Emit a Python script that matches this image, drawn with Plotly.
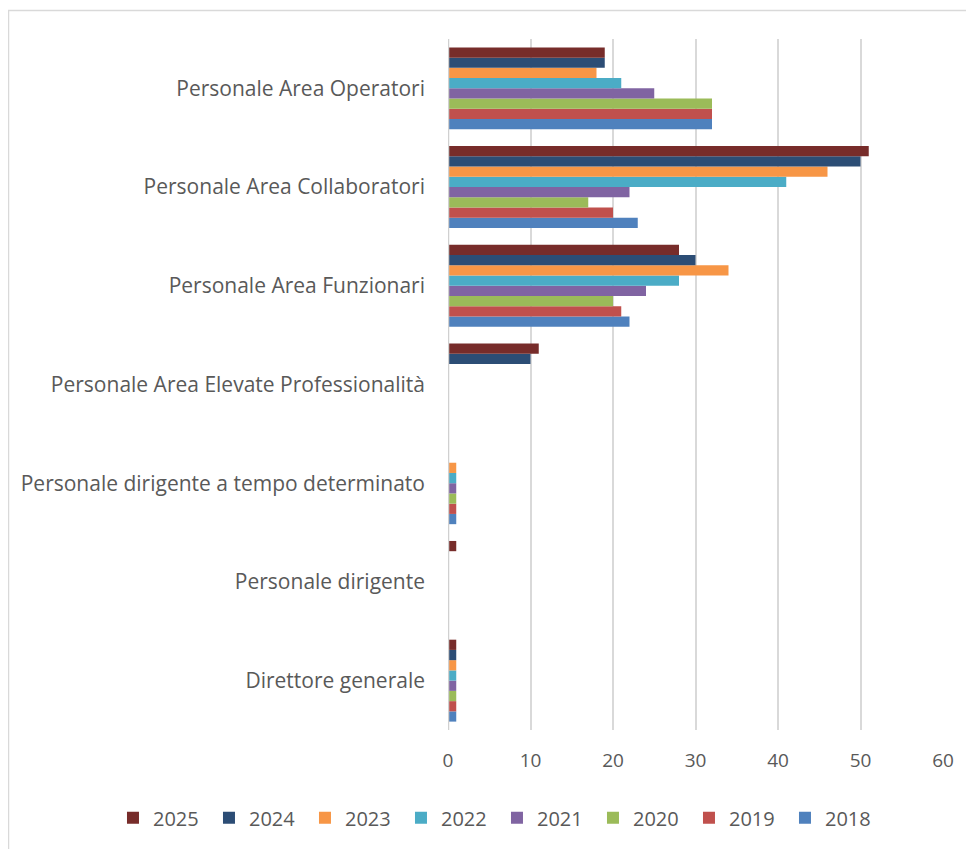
import plotly.graph_objects as go

categories = [
    "Direttore generale",
    "Personale dirigente",
    "Personale dirigente a tempo determinato",
    "Personale Area Elevate Professionalità",
    "Personale Area Funzionari",
    "Personale Area Collaboratori",
    "Personale Area Operatori",
]

years = ["2018", "2019", "2020", "2021", "2022", "2023", "2024", "2025"]

v2018 = [1, None, 1, None, 22, 23, 32]
v2019 = [1, None, 1, None, 21, 20, 32]
v2020 = [1, None, 1, None, 20, 17, 32]
v2021 = [1, None, 1, None, 24, 22, 25]
v2022 = [1, None, 1, None, 28, 41, 21]
v2023 = [1, None, 1, None, 34, 46, 18]
v2024 = [1, None, None, 10, 30, 50, 19]
v2025 = [1, 1, None, 11, 28, 51, 19]

values = [v2018, v2019, v2020, v2021, v2022, v2023, v2024, v2025]
colors = ["#4F81BD", "#C0504D", "#9BBB59", "#8064A2",
          "#4BACC6", "#F79646", "#2C4D75", "#772C2A"]

x_ticks = [0, 10, 20, 30, 40, 50, 60]

fig = go.Figure()
for yr, vals, col in zip(years, values, colors):
    fig.add_trace(go.Bar(
        y=categories, x=vals, name=yr, orientation="h",
        marker=dict(color=col, line=dict(width=0)),
    ))

fig.update_layout(
    width=966, height=841,
    margin=dict(l=440, r=31, t=31, b=108),
    barmode="group",
    bargap=0.17,
    bargroupgap=0,
    plot_bgcolor="white",
    paper_bgcolor="white",
    font=dict(family="Open Sans, sans-serif", color="#595959"),
    legend=dict(
        orientation="h", traceorder="reversed",
        x=-0.6768, xanchor="left", y=-0.127, yanchor="middle",
        font=dict(size=20, family="Open Sans, sans-serif", color="#595959"),
        entrywidth=51, entrywidthmode="pixels",
        itemwidth=30,
    ),
    xaxis=dict(
        range=[0, 60], tickvals=x_ticks,
        showgrid=True, gridcolor="#D9D9D9", gridwidth=2,
        zeroline=False, showline=False, ticks="",
        tickfont=dict(size=19, color="#595959"),
        ticklabelstandoff=17,
    ),
    yaxis=dict(
        showgrid=False, zeroline=False, showline=False, ticks="",
        tickfont=dict(size=21, color="#595959"),
        ticklabelstandoff=22,
    ),
    shapes=[
        dict(type="rect", xref="paper", yref="paper",
             x0=-0.8879, x1=1.2, y0=-0.4, y1=1.0413,
             line=dict(color="#D9D9D9", width=1.5), layer="below"),
        dict(type="line", xref="x", yref="paper", x0=0, x1=0, y0=0, y1=1,
             line=dict(color="#D0D0D0", width=2.5), layer="above"),
    ],
)

fig.write_html("out.html")
